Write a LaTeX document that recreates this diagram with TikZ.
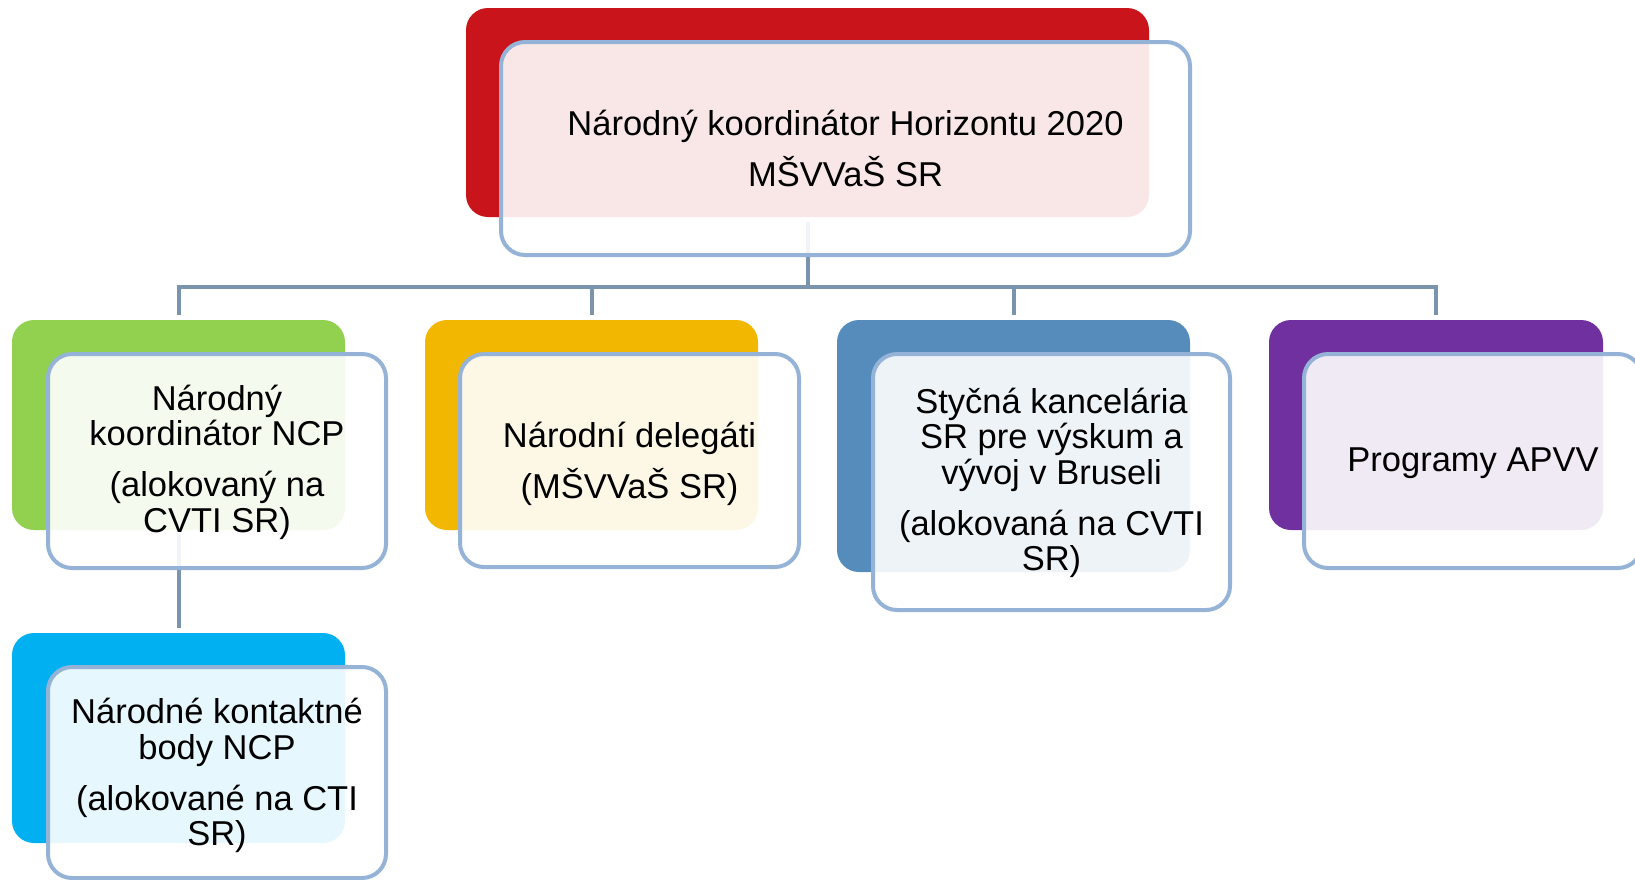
\documentclass[tikz,border=0pt]{standalone}
\usepackage{fontspec}
\setmainfont{Liberation Sans}
\definecolor{cred}{HTML}{C8141A}
\definecolor{cgreen}{HTML}{92D050}
\definecolor{cyellow}{HTML}{F2B700}
\definecolor{csteel}{HTML}{558CBC}
\definecolor{cpurple}{HTML}{7030A0}
\definecolor{ccyan}{HTML}{00B0F0}
\definecolor{cborder}{HTML}{95B3D7}
\definecolor{cconn}{HTML}{7A94AE}
\begin{document}
\begin{tikzpicture}[x=1pt,y=-1pt,
  back/.style={rectangle, rounded corners=22pt, inner sep=0pt, outer sep=0pt, anchor=north west, draw=none},
  front/.style={rectangle, rounded corners=24pt, inner sep=0pt, outer sep=0pt, anchor=north west,
    draw=cborder, line width=4pt, fill=white, fill opacity=0.9, draw opacity=1, text opacity=1,
    align=center, font=\fontsize{34.5}{35.5}\selectfont},
  conn/.style={draw=cconn, line width=4pt, shorten <=5pt, shorten >=5pt},
  lbl/.style={align=center, inner sep=0pt, font=\fontsize{34.5}{35.5}\selectfont}
]
\useasboundingbox (0,0) rectangle (1635,879);
\clip (0,0) rectangle (1635,879);
\fill[white] (0,0) rectangle (1635,879);

% back boxes
\node[back, fill=cred, minimum width=683pt, minimum height=209pt] (topback) at (466,8) {};
\node[back, fill=cgreen, minimum width=333pt, minimum height=210pt] (greenback) at (12,320) {};
\node[back, fill=cyellow, minimum width=333pt, minimum height=210pt] (yellowback) at (425,320) {};
\node[back, fill=csteel, minimum width=353pt, minimum height=252pt] (steelback) at (837,320) {};
\node[back, fill=cpurple, minimum width=334pt, minimum height=210pt] (purpleback) at (1269,320) {};
\node[back, fill=ccyan, minimum width=333pt, minimum height=210pt] (cyanback) at (12,633) {};

% connectors
\coordinate (bus) at (807.5,286.5);
\draw[conn, shorten >=0pt] (topback.south) -- (bus);
\draw[conn, shorten <=0pt, line join=miter] (bus) -| (greenback.north);
\draw[conn, shorten <=0pt, line join=miter] (bus) -| (yellowback.north);
\draw[conn, shorten <=0pt, line join=miter] (bus) -| (steelback.north);
\draw[conn, shorten <=0pt, line join=miter] (bus) -| (purpleback.north);
\draw[conn] (greenback.south) -- (cyanback.north);

% front boxes
\node[front, minimum width=689pt, minimum height=213pt] (topfront) at (501,42) {};
\node[front, minimum width=338pt, minimum height=214pt] (greenfront) at (48,354) {};
\node[front, minimum width=339pt, minimum height=213pt] (yellowfront) at (460,354) {};
\node[front, minimum width=357pt, minimum height=256pt] (steelfront) at (873,354) {};
\node[front, minimum width=338pt, minimum height=214pt] (purplefront) at (1304,354) {};
\node[front, minimum width=338pt, minimum height=211pt] (cyanfront) at (48,667) {};

% labels
\node[lbl] (toptext) at (topfront.center) {Národný koordinátor Horizontu 2020\\[12.5pt]MŠVVaŠ SR};
\node[lbl] (greentext) at ([yshift=-1pt]greenfront.center) {Národný\\koordinátor NCP\\[15.5pt](alokovaný na\\CVTI SR)};
\node[lbl] (yellowtext) at ([yshift=-3pt]yellowfront.center) {Národní delegáti\\[12.5pt](MŠVVaŠ SR)};
\node[lbl] (steeltext) at ([yshift=-1pt]steelfront.center) {Styčná kancelária\\SR pre výskum a\\vývoj v Bruseli\\[15.5pt](alokovaná na CVTI\\SR)};
\node[lbl] (purpletext) at ([yshift=-2pt]purplefront.center) {Programy APVV};
\node[lbl] (cyantext) at ([yshift=-3pt]cyanfront.center) {Národné kontaktné\\body NCP\\[15.5pt](alokované na CTI\\SR)};
\end{tikzpicture}
\end{document}
